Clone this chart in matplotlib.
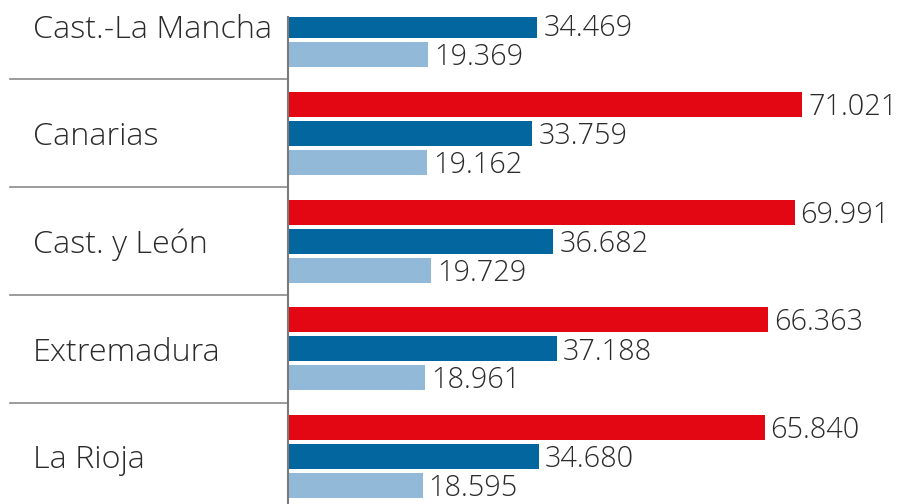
import numpy as np
import matplotlib.pyplot as plt

# datos
regiones = ['Cast.-La Mancha', 'Canarias', 'Cast. y León', 'Extremadura', 'La Rioja']
rojo = [np.nan, 71021, 69991, 66363, 65840]   # la primera queda cortada arriba
azul = [34469, 33759, 36682, 37188, 34680]
celeste = [19369, 19162, 19729, 18961, 18595]

c_rojo = '#e30613'
c_azul = '#03669f'
c_celeste = '#93b9d9'
c_texto = '#2b2b2b'

W, H = 897, 504
fig = plt.figure(figsize=(W / 100, H / 100), dpi=100)
x0, ytop = 288, 17
ax = fig.add_axes([x0 / W, 0, (W - x0) / W, (H - ytop) / H])

escala = 514 / 71021  # px por unidad
ax.set_xlim(0, (W - x0) / escala)
ax.set_ylim(H, ytop)

paso_grupo = 107.75
paso_barra = 29
alto = 25
centros = 25.5 + paso_grupo * np.arange(len(regiones))

fuente = 'Open Sans'

def fmt(v):
    return f'{int(v):,}'.replace(',', '.')

for serie, color, desp in [(rojo, c_rojo, -paso_barra), (azul, c_azul, 0), (celeste, c_celeste, paso_barra)]:
    ys = centros + desp
    ax.barh(ys, serie, height=alto, color=color, edgecolor='none')
    for y, v in zip(ys, serie):
        if np.isnan(v):
            continue
        ax.text(v + 6 / escala, y + 3, fmt(v), va='center', ha='left',
                fontsize=20.8, color=c_texto, family=fuente, weight='light')

tr = ax.get_yaxis_transform()
for y, nombre in zip(centros, regiones):
    ax.text((33 - x0) / (W - x0), y + 4, nombre, transform=tr, ha='left', va='center',
            fontsize=23.3, color=c_texto, family=fuente, weight='light', clip_on=False)

for i in range(len(regiones) - 1):
    ys = centros[i] + paso_grupo / 2
    ax.plot([(10 - x0) / (W - x0), 0], [ys, ys], transform=tr, color='#8a8a8a',
            lw=1.2, clip_on=False)

for lado in ['top', 'right', 'bottom']:
    ax.spines[lado].set_visible(False)
ax.spines['left'].set_color('#7a7a7a')
ax.spines['left'].set_linewidth(1.5)
ax.set_xticks([])
ax.set_yticks([])
ax.patch.set_alpha(0)

fig.savefig('out.png', dpi=100, facecolor='white')
